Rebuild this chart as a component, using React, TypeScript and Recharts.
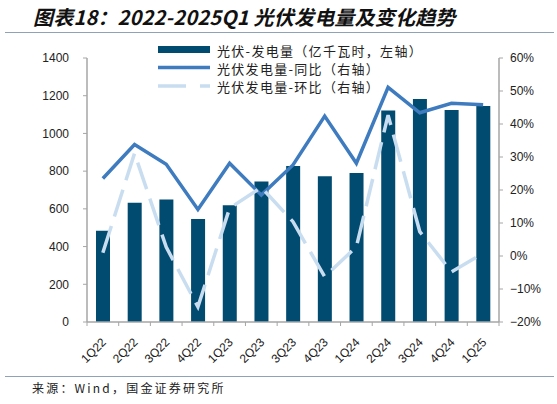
import React from 'react';
import { ComposedChart, Bar, Line, XAxis, YAxis, Legend } from 'recharts';

const categories = ['1Q22', '2Q22', '3Q22', '4Q22', '1Q23', '2Q23', '3Q23', '4Q23', '1Q24', '2Q24', '3Q24', '4Q24', '1Q25'];
const generation = [484, 633, 649, 546, 619, 745, 827, 773, 790, 1122, 1183, 1124, 1145];
const yoy = [23.5, 33.8, 27.8, 14.1, 28.1, 18.5, 27.6, 42.4, 28.1, 51.1, 43.4, 46.3, 45.8];
const qoq = [1.0, 31.1, 2.7, -15.4, 14.5, 20.8, 10.4, -6.3, 2.8, 42.7, 7.4, -4.8, 0.8];
const leftTicks = [0, 200, 400, 600, 800, 1000, 1200, 1400];
const rightTicks = [-20, -10, 0, 10, 20, 30, 40, 50, 60];

const seriesNames = ['光伏-发电量（亿千瓦时，左轴）', '光伏发电量-同比（右轴）', '光伏发电量-环比（右轴）'];
const titleText = '图表18：2022-2025Q1 光伏发电量及变化趋势';
const sourceText = '来源：Wind，国金证券研究所';

const BAR_COLOR = '#024B70';
const YOY_COLOR = '#3E7CBF';
const QOQ_COLOR = '#C9DDF0';
const AXIS_COLOR = '#A6A6A6';
const RULE_COLOR = '#8EA3B8';

const data = categories.map((c, i) => ({ cat: c, gen: generation[i], yoy: yoy[i], qoq: qoq[i] }));

const tickFont = { fontFamily: '"Liberation Sans", Arial, sans-serif', fontSize: 12, fill: '#222' };

const XTick = (props: any) => {
  const { x, y, payload, index } = props;
  const half = 412 / 13 / 2;
  return (
    <g transform={`translate(${x},${y})`}>
      <line x1={-half} x2={-half} y1={0} y2={4} stroke={AXIS_COLOR} strokeWidth={1} />
      {index === categories.length - 1 && (
        <line x1={half} x2={half} y1={0} y2={4} stroke={AXIS_COLOR} strokeWidth={1} />
      )}
      <text x={4} y={21} textAnchor="end" transform={`rotate(-45, 4, 21)`} {...tickFont}>
        {payload.value}
      </text>
    </g>
  );
};

const LegendContent = () => (
  <svg width={300} height={56} style={{ display: 'block' }}>
    <rect x={0} y={5} width={52} height={7} fill={BAR_COLOR} />
    <line x1={0} x2={52} y1={26.5} y2={26.5} stroke={YOY_COLOR} strokeWidth={3.5} />
    <line x1={0} x2={52} y1={45} y2={45} stroke={QOQ_COLOR} strokeWidth={3.5} strokeDasharray="28 14" />
    {seriesNames.map((n, i) => (
      <text
        key={n}
        x={59}
        y={9 + i * 18.2}
        dominantBaseline="central"
        fontFamily='"Noto Sans CJK SC", sans-serif'
        fontSize={13}
        letterSpacing={1.3}
        fill="#222"
      >
        {n}
      </text>
    ))}
  </svg>
);

const fmtRight = (v: number) => `${v < 0 ? '−' : ''}${Math.abs(v)}%`;

export default function App() {
  return (
    <div style={{ position: 'absolute', left: 0, top: 0, width: 557, height: 404, background: '#fff', overflow: 'hidden' }}>
      <div
        style={{
          position: 'absolute',
          left: 33,
          top: 4.5,
          fontFamily: '"Noto Sans CJK SC", sans-serif',
          fontWeight: 700,
          fontStyle: 'italic',
          fontSize: 20,
          letterSpacing: '0.2px',
          lineHeight: '24px',
          color: '#111',
          whiteSpace: 'nowrap',
        }}
      >
        {titleText}
      </div>
      <div style={{ position: 'absolute', left: 5, top: 31.5, width: 549, height: 1.2, background: RULE_COLOR }} />
      <ComposedChart
        width={557}
        height={404}
        data={data}
        margin={{ top: 58, right: 0, bottom: 0, left: 0 }}
        style={{ position: 'absolute', left: 0, top: 0 }}
      >
        <XAxis
          dataKey="cat"
          height={82}
          interval={0}
          tickLine={false}
          tickSize={0}
          tickMargin={0}
          axisLine={{ stroke: AXIS_COLOR, strokeWidth: 1.5 }}
          tick={<XTick />}
        />
        <YAxis
          yAxisId="left"
          width={87}
          domain={[0, 1400]}
          ticks={leftTicks}
          interval={0}
          tickSize={4}
          tickMargin={14}
          axisLine={{ stroke: AXIS_COLOR, strokeWidth: 1.5 }}
          tickLine={{ stroke: AXIS_COLOR }}
          tick={tickFont}
        />
        <YAxis
          yAxisId="right"
          orientation="right"
          width={58}
          domain={[-20, 60]}
          ticks={rightTicks}
          interval={0}
          tickSize={4}
          tickMargin={7}
          axisLine={{ stroke: AXIS_COLOR, strokeWidth: 1.5 }}
          tickLine={{ stroke: AXIS_COLOR }}
          tick={tickFont}
          tickFormatter={fmtRight}
        />
        <Legend
          layout="vertical"
          align="center"
          verticalAlign="middle"
          content={<LegendContent />}
          wrapperStyle={{ position: 'absolute', left: 158, top: 41, width: 300, height: 56 }}
        />
        <Bar yAxisId="left" dataKey="gen" fill={BAR_COLOR} barSize={14} isAnimationActive={false} />
        <Line
          yAxisId="right"
          dataKey="yoy"
          stroke={YOY_COLOR}
          strokeWidth={3.5}
          dot={false}
          activeDot={false}
          type="linear"
          isAnimationActive={false}
        />
        <Line
          yAxisId="right"
          dataKey="qoq"
          stroke={QOQ_COLOR}
          strokeWidth={3.5}
          strokeDasharray="28 10"
          dot={false}
          activeDot={false}
          type="linear"
          isAnimationActive={false}
        />
      </ComposedChart>
      <div style={{ position: 'absolute', left: 5, top: 375.5, width: 549, height: 1.2, background: RULE_COLOR }} />
      <div
        style={{
          position: 'absolute',
          left: 32,
          top: 379,
          fontFamily: '"Noto Sans CJK SC", sans-serif',
          fontSize: 12,
          letterSpacing: '2.2px',
          lineHeight: '18px',
          color: '#222',
          whiteSpace: 'nowrap',
        }}
      >
        {sourceText}
      </div>
    </div>
  );
}
